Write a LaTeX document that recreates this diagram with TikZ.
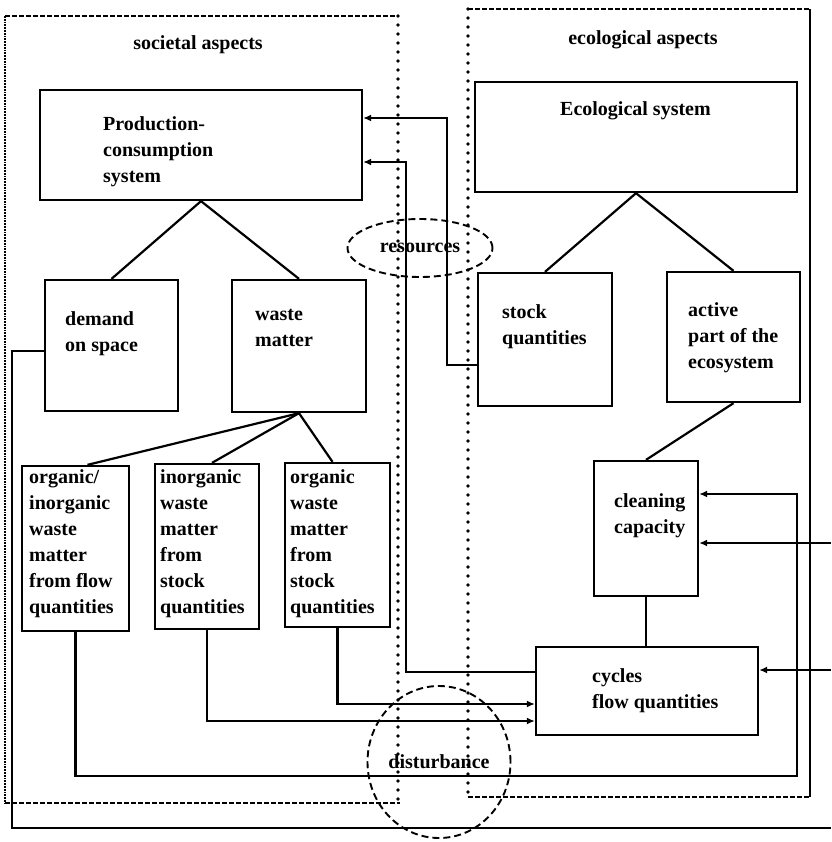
\documentclass[tikz,border=0pt]{standalone}
\usepackage{fontspec}
\setmainfont{Liberation Serif}
\usetikzlibrary{arrows.meta,shapes.geometric}
\begin{document}
\begin{tikzpicture}[x=1pt,y=-1pt,
  box/.style={draw,line width=2.3pt,inner sep=0pt},
  txt/.style={anchor=north west,align=left,inner sep=0pt,font=\fontsize{20}{26}\selectfont\bfseries},
  ttl/.style={inner sep=0pt,font=\fontsize{20}{26}\selectfont\bfseries},
  conn/.style={line width=2.2pt},
  arr/.style={line width=2.2pt,-{Latex[length=8pt,width=7pt]}},
  bigdots/.style={line width=3.6pt,line cap=round,dash pattern=on 0pt off 9pt},
  finedash/.style={line width=1.6pt,dash pattern=on 5pt off 2pt},
  oval/.style={ellipse,draw,line width=1.9pt,dash pattern=on 7pt off 4pt,inner sep=0pt,font=\fontsize{20}{26}\selectfont\bfseries}
]
\fill[white] (0,0) rectangle (831,842);
\useasboundingbox (0,0) rectangle (831,842);

% aspect frames
\draw[finedash] (5,16) -- (398,16);
\draw[line width=1.8pt,densely dotted] (5,16) -- (5,803);
\draw[finedash] (5,803) -- (400,803);
\draw[bigdots] (398,16) -- (398,803);
\draw[finedash] (468,9) -- (810,9);
\draw[bigdots] (468,9) -- (468,797);
\draw[finedash] (468,797) -- (810,797);
\draw[line width=1.4pt] (810,9) -- (810,797);

\node[ttl] (tsoc) at (198,45) {societal aspects};
\node[ttl] (teco) at (643,40) {ecological aspects};

% boxes
\node[box,minimum width=322pt,minimum height=110pt] (prod) at (201,145) {};
\node[box,minimum width=322pt,minimum height=110pt] (eco) at (636,137) {};
\node[box,minimum width=133pt,minimum height=131pt] (demand) at (111.5,345.5) {};
\node[box,minimum width=134pt,minimum height=132pt] (waste) at (299,346) {};
\node[box,minimum width=134pt,minimum height=133pt] (stock) at (545,339.5) {};
\node[box,minimum width=133pt,minimum height=130pt] (active) at (733.5,337) {};
\node[box,minimum width=107pt,minimum height=165pt] (orgin) at (75.5,548.5) {};
\node[box,minimum width=104pt,minimum height=165pt] (inorg) at (207,546.5) {};
\node[box,minimum width=105pt,minimum height=164pt] (org) at (337.5,545) {};
\node[box,minimum width=104pt,minimum height=135pt] (clean) at (646,528.5) {};
\node[box,minimum width=222pt,minimum height=88pt] (cycles) at (647,691) {};

% texts
\node[txt] (tprod) at (103,116) {Production-\\consumption\\system};
\node[txt] (teco2) at (560,101) {Ecological system};
\node[txt] (tdemand) at (65,311) {demand\\on space};
\node[txt] (twaste) at (255,309) {waste\\matter};
\node[txt] (tstock) at (502,304) {stock\\quantities};
\node[txt] (tactive) at (688,302) {active\\part of the\\ecosystem};
\node[txt] (torgin) at (29,469) {organic/\\inorganic\\waste\\matter\\from flow\\quantities};
\node[txt] (tinorg) at (160,469) {inorganic\\waste\\matter\\from\\stock\\quantities};
\node[txt] (torg) at (290,469) {organic\\waste\\matter\\from\\stock\\quantities};
\node[txt] (tclean) at (614,493) {cleaning\\capacity};
\node[txt] (tcycles) at (592,668) {cycles\\flow quantities};

% ovals
\node[oval,minimum width=145pt,minimum height=58pt] (res) at (420,248) {resources};
\node[oval,minimum width=124pt,minimum height=152pt] (dist) at (439,762) {disturbance};

% tree connectors
\draw[conn] (prod.south) -- (demand.north);
\draw[conn] (prod.south) -- (waste.north);
\draw[conn] (eco.south) -- (stock.north);
\draw[conn] (eco.south) -- (active.north);
\draw[conn] (waste.south) -- ([xshift=12pt]orgin.north);
\draw[conn] (waste.south) -- ([xshift=5pt]inorg.north);
\draw[conn] (waste.south) -- ([xshift=-5pt]org.north);
\draw[conn] (active.south) -- (clean.north);
\draw[conn] (clean.south) -- (clean.south |- cycles.north);

% flows
\coordinate (r1) at (447,365);
\coordinate (r2) at (447,118);
\draw[arr] (stock.west |- r1) -- (r1) -- (r2) -- (prod.east |- r2);
\coordinate (c1) at (406,672);
\coordinate (c2) at (406,162);
\draw[arr] (cycles.west |- c1) -- (c1) -- (c2) -- (prod.east |- c2);
\draw[arr] (org.south) -- (org.south |- 0,704) -- (cycles.west |- 0,704);
\draw[arr] (inorg.south) -- (inorg.south |- 0,721) -- (cycles.west |- 0,721);
\coordinate (o1) at (797,776);
\coordinate (o2) at (797,494);
\draw[arr] (orgin.south) -- (orgin.south |- o1) -- (o1) -- (o2) -- (clean.east |- o2);
\coordinate (d1) at (12,351);
\coordinate (d2) at (12,828);
\coordinate (d3) at (831,828);
\draw[conn] (demand.west |- d1) -- (d1) -- (d2) -- (d3);
\coordinate (e1) at (831,543);
\draw[arr] (e1) -- (clean.east |- e1);
\coordinate (e2) at (831,670);
\draw[arr] (e2) -- (cycles.east |- e2);
\end{tikzpicture}
\end{document}
